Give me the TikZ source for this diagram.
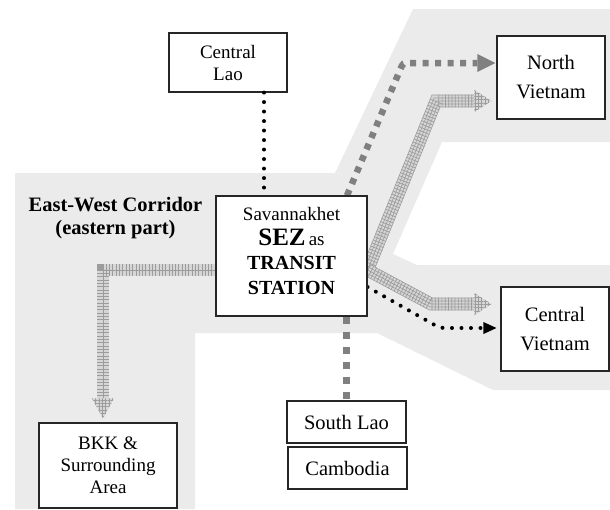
\documentclass[tikz,border=0pt]{standalone}
\usepackage{fontspec}
\setmainfont{Liberation Serif}
\usetikzlibrary{calc,patterns.meta}
\definecolor{bggray}{HTML}{EBEBEB}
\definecolor{dashgray}{HTML}{808080}
\definecolor{hlight}{HTML}{D6D6D6}
\definecolor{hdark}{HTML}{9C9C9C}
\newcommand\myfs[2]{\fontsize{#1}{#2}\selectfont}
\newcommand\hband[1]{%
  \draw[hb, line width=12.7pt, draw=hdark] #1;
  \draw[hb, line width=11.3pt, draw=hlight] #1;
  \draw[hb, line width=6.7pt, draw=hdark] #1;
  \draw[hb, line width=5.3pt, draw=hlight] #1;
  \draw[hb, line width=0.7pt, draw=hdark] #1;
  \draw[hb, line width=12.7pt, draw=hdark, dash pattern=on 0.7pt off 2.6pt] #1;
}
\tikzset{
  hb/.style={line join=miter, line cap=butt},
  htip/.style={fill=hlight, postaction={pattern={Hatch[angle=0,distance=3.3pt,line width=0.7pt]}, pattern color=hdark}},
  box/.style={draw=black!85, line width=1.1pt, fill=white, inner sep=0pt, align=center},
  graydash/.style={draw=dashgray, line width=6.5pt, dash pattern=on 6pt off 6.5pt, line cap=butt},
  blackdots/.style={draw=black, line width=4pt, dash pattern=on 0pt off 9.5pt, line cap=round},
}
\begin{document}
\begin{tikzpicture}[x=1pt, y=-1pt]
\useasboundingbox (0,0) rectangle (610,509);
% corridor background
\fill[bggray] (15,173) -- (335,173) -- (413,9) -- (610,9) -- (610,142) -- (442,142)
  -- (393,254) -- (417,265) -- (610,265) -- (610,390) -- (493,390) -- (377,333)
  -- (195,333) -- (195,509) -- (15,509) -- cycle;

% nodes (positions)
\node[box, minimum width=118pt, minimum height=59pt, font=\myfs{19}{22}] (cl) at (228,62.5) {Central\\Lao};
\node[box, minimum width=151pt, minimum height=120pt] (sez) at (291.5,256) {};
\node[box, minimum width=108pt, minimum height=83pt, font=\myfs{20.5}{29}] (nv) at (551,77.5) {North\\Vietnam};
\node[box, minimum width=108pt, minimum height=84pt, font=\myfs{20.5}{29}] (cv) at (555,329) {Central\\Vietnam};
\node[box, minimum width=119pt, minimum height=42pt, font=\myfs{20.5}{24}] (sl) at (346.5,422) {South Lao};
\node[box, minimum width=119pt, minimum height=42pt, font=\myfs{20.5}{24}] (cam) at (347.5,468) {Cambodia};
\node[box, minimum width=138pt, minimum height=85pt, font=\myfs{19}{22}] (bkk) at (108,465.5) {BKK \&\\Surrounding\\Area};

% tip coordinates
\coordinate (nvtipH) at ($(nv.west)+(-5,23.5)$);
\coordinate (cvtipH) at ($(cv.west)+(-9,-25)$);
\coordinate (bkktip) at ($(bkk.north)+(-5,-4)$);
\coordinate (nvtipD) at ($(nv.west)+(-1,-14.5)$);
\coordinate (cvtipK) at ($(cv.west)+(-4,-1)$);

% hatched bands
\hband{([yshift=-14pt]sez.east) -- (436,101) -- ($(nvtipH)+(-17,0)$)}
\fill[htip] (nvtipH) -- ++(-17,-11) -- ++(0,22) -- cycle;
\hband{([yshift=-14pt]sez.east) -- (431,304) -- ($(cvtipH)+(-17,0)$)}
\fill[htip] (cvtipH) -- ++(-17,-11) -- ++(0,22) -- cycle;
\hband{([yshift=-14pt]sez.west) -- (103,270) -- ($(bkktip)+(0,-20)$)}
\fill[htip] (bkktip) -- ++(-11,-20) -- ++(22,0) -- cycle;

% gray dashed
\draw[graydash, rounded corners=3pt] ([xshift=55.5pt]sez.north) -- (403,63) -- ($(nvtipD)+(-18,0)$);
\fill[dashgray] (nvtipD) -- ++(-18,-9) -- ++(0,18) -- cycle;
\draw[graydash, dash pattern=on 7pt off 8pt, line width=7.5pt] (sez.south -| sl.north) -- (sl.north);

% black dotted
\draw[blackdots] ([xshift=36pt]cl.south) -- ([xshift=36pt]cl.south |- sez.north);
\draw[blackdots, rounded corners=4pt] ([yshift=-31pt]sez.east) -- (440,328) -- ($(cvtipK)+(-13,0)$);
\fill[black] (cvtipK) -- ++(-13,-6) -- ++(0,12) -- cycle;

% redraw SEZ box on top with text
\node[box, minimum width=151pt, minimum height=120pt] at (sez.center) {};
\node[align=center, inner sep=0pt, font=\myfs{19}{24.5}] (seztext) at ([yshift=5pt]sez.center)
  {Savannakhet\\{\myfs{25}{25}\bfseries SEZ}\,as\\{\bfseries\myfs{20}{24.5}TRANSIT}\\{\bfseries\myfs{20}{24.5}STATION}};

% corridor label
\node[align=center, inner sep=0pt, font=\bfseries\myfs{20.5}{23.5}] (ewc) at (115.5,218) {East-West Corridor\\(eastern part)};
\end{tikzpicture}
\end{document}
